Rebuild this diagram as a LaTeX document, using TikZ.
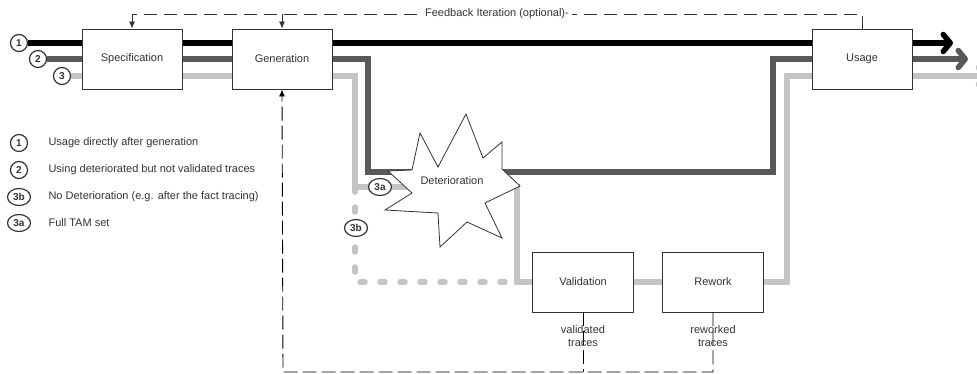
\documentclass[tikz,border=0pt]{standalone}
\usepackage{fontspec}
\setmainfont{Liberation Sans}
\usetikzlibrary{arrows.meta,shapes.geometric,backgrounds}

\definecolor{ink}{HTML}{333333}
\definecolor{trackgray}{HTML}{595959}
\definecolor{tracklight}{HTML}{C4C4C4}

\tikzset{
  stage/.style={draw=ink,line width=0.9pt,fill=white,minimum width=100pt,minimum height=60pt,inner sep=0pt},
  pathnum/.style={circle,draw=ink,line width=1.2pt,fill=white,inner sep=0pt,minimum size=17pt,font=\fontsize{10}{10}\selectfont\bfseries},
  subnum/.style={pathnum,ellipse,minimum width=23pt,minimum height=17pt},
  legendtext/.style={anchor=west},
  track/.style={line width=5.5pt,line join=miter},
  trackhead/.style={-{Straight Barb[length=7pt,width=17pt,round]}},
  feedback/.style={draw=ink,line width=0.9pt,dash pattern=on 13pt off 7pt},
  backflow/.style={draw=black,line width=0.9pt,dash pattern=on 14pt off 5pt},
  fbhead/.style={-{Latex[length=7pt,width=6pt]}},
}

\begin{document}
\begin{tikzpicture}[x=1pt,y=-1pt,font=\fontsize{11}{13}\selectfont,text=ink]
\useasboundingbox (0,0) rectangle (977,374);

\node[stage] (spec) at (132,59) {Specification};
\node[stage] (gen) at (282,59) {Generation};
\node[stage] (usage) at (862,59) {Usage};
\node[stage,minimum width=101pt] (valid) at (583,282) {Validation};
\node[stage,minimum width=101pt] (rework) at (713,282) {Rework};

\draw[draw=ink,line width=0.8pt,fill=white] (420,133) -- (438,167) -- (466,114) -- (483,158)
  -- (502,142) -- (502,169) -- (520,186) -- (485,203) -- (502,238) -- (467,222)
  -- (440,247) -- (438,213) -- (385,210) -- (412,193) -- (388,171) -- (412,170) -- cycle;
\node (det) at (452,181) {Deterioration};

\node[pathnum] (p1) at (19,43) {1};
\node[pathnum] (p2) at (38,59) {2};
\node[pathnum] (p3) at (62,76) {3};
\node[subnum] (p3a) at (380,187) {3a};
\node[subnum] (p3b) at (356,228) {3b};

\coordinate (drop2) at (368,172);
\coordinate (rise2) at (773,172);
\coordinate (drop3) at (355,187);
\coordinate (join3) at (517,187);
\coordinate (bend3b) at (355,282);
\coordinate (rise3) at (787,282);
\coordinate (fbtop) at (862,14);
\coordinate (base) at (283,372);
\coordinate (end1) at (953,43);
\coordinate (end2) at (968,59);
\coordinate (end3) at (988,76);

\begin{scope}[on background layer]
\draw[track,black,trackhead] (p1) -- (end1);
\draw[track,trackgray,trackhead] (p2) -- (drop2 |- p2) -- (drop2) -- (rise2) -- (rise2 |- p2) -- (end2);
\draw[track,tracklight,trackhead] (p3) -- (drop3 |- p3) -- (drop3) -- (join3) -- (join3 |- valid)
  -- (rise3) -- (rise3 |- p3) -- (end3);
\draw[track,tracklight,line cap=round,dash pattern=on 5pt off 15pt] (drop3) -- (bend3b) -- (join3 |- valid);
\end{scope}

\draw[feedback,fbhead] (usage.north) -- (fbtop) -- (spec.north |- fbtop) -- (spec.north);
\draw[feedback,fbhead] (gen.north |- fbtop) -- (gen.north);
\node[fill=white,inner xsep=3pt,inner ysep=1pt] (fblabel) at (497,14) {Feedback Iteration (optional)-};

\draw[backflow,fbhead] (rework.south) -- (rework.south |- base) -- (base) -- (gen.south);
\draw[backflow] (valid.south) -- (valid.south |- base);
\node[align=center] (vtr) at (583,336) {validated\\traces};
\node[align=center] (rtr) at (713,336) {reworked\\traces};

\node[pathnum] (k1) at (19,143) {1};
\node[legendtext] (k1t) at (45,143) {Usage directly after generation};
\node[pathnum] (k2) at (19,170) {2};
\node[legendtext] (k2t) at (45,170) {Using deteriorated but not validated traces};
\node[subnum] (k3b) at (19,197) {3b};
\node[legendtext] (k3bt) at (45,197) {No Deterioration (e.g. after the fact tracing)};
\node[subnum] (k3a) at (19,223) {3a};
\node[legendtext] (k3at) at (45,223) {Full TAM set};
\end{tikzpicture}
\end{document}
